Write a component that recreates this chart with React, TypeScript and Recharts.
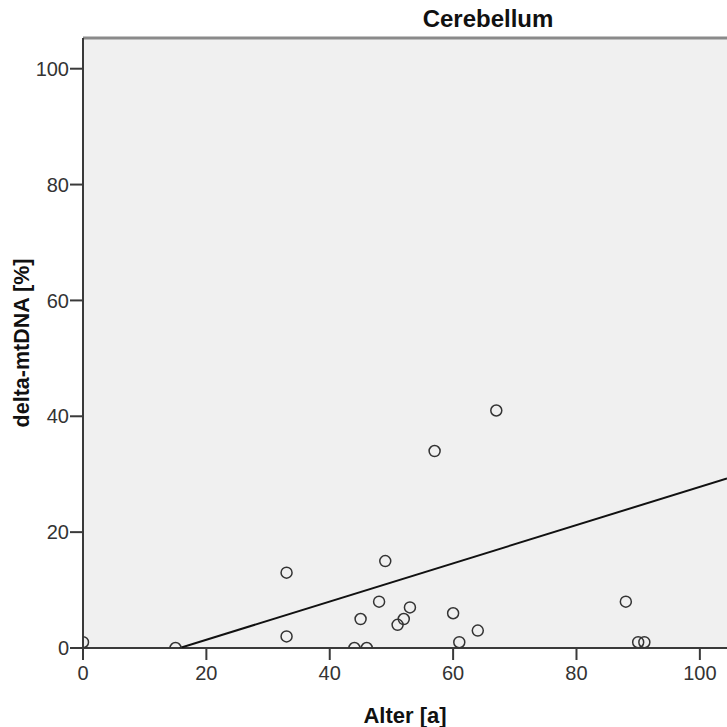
import {
  ScatterChart,
  Scatter,
  XAxis,
  YAxis,
  CartesianGrid,
  ReferenceLine,
} from "recharts";

// Alter [a] and delta-mtDNA [%] per sample
const ages = [0, 15, 33, 33, 44, 46, 45, 48, 49, 51, 52, 53, 57, 60, 61, 64, 67, 88, 90, 91];
const deltas = [1, 0, 13, 2, 0, 0, 5, 8, 15, 4, 5, 7, 34, 6, 1, 3, 41, 8, 1, 1];

const xTicks = [0, 20, 40, 60, 80, 100];
const yTicks = [0, 20, 40, 60, 80, 100];
const xMax = 104.4;
const yMax = 105.3;

// linear fit: delta = intercept + slope * age
const fitIntercept = -5.18;
const fitSlope = 0.33;

const points = ages.map((a, i) => ({ x: a, y: deltas[i] }));
const fitStart = Math.max(0, -fitIntercept / fitSlope);
const fitLine = [fitStart, xMax].map((x) => ({ x, y: fitIntercept + fitSlope * x }));

const FONT = '"Liberation Sans", Arial, sans-serif';
const AXIS = "#3a3a3a";

const tickStyle = { fill: "#333", fontSize: 20, fontFamily: FONT };

function YTitle(props: any) {
  const vb = props.viewBox;
  const cx = 22;
  const cy = vb.y + vb.height / 2;
  return (
    <text
      x={cx}
      y={cy}
      transform={`rotate(-90 ${cx} ${cy})`}
      textAnchor="middle"
      dominantBaseline="central"
      fontFamily={FONT}
      fontWeight="bold"
      fontSize={21.5}
      fill="#111"
    >
      delta-mtDNA [%]
    </text>
  );
}

function XTitle(props: any) {
  const vb = props.viewBox;
  return (
    <text
      x={vb.x + vb.width / 2}
      y={715}
      textAnchor="middle"
      dominantBaseline="central"
      fontFamily={FONT}
      fontWeight="bold"
      fontSize={22}
      fill="#111"
    >
      Alter [a]
    </text>
  );
}

const ring = (p: any) => (
  <circle cx={p.cx} cy={p.cy} r={5.5} fill="none" stroke="#333" strokeWidth={1.5} />
);

export default function App() {
  return (
    <div style={{ position: "absolute", left: 0, top: 0, width: 727, height: 727, background: "#fff" }}>
      <div
        style={{
          position: "absolute",
          left: 488,
          top: 19,
          transform: "translate(-50%, -50%)",
          fontFamily: FONT,
          fontWeight: "bold",
          fontSize: 24,
          color: "#111",
          whiteSpace: "nowrap",
        }}
      >
        Cerebellum
      </div>
      <ScatterChart
        width={727}
        height={727}
        margin={{ top: 38, right: 0, bottom: 0, left: 0 }}
      >
        <CartesianGrid fill="#f0f0f0" horizontal={false} vertical={false} />
        <XAxis
          type="number"
          dataKey="x"
          domain={[0, xMax]}
          ticks={xTicks}
          allowDataOverflow
          height={79}
          tickSize={12}
          tickMargin={6}
          tick={tickStyle}
          axisLine={{ stroke: AXIS, strokeWidth: 2 }}
          tickLine={{ stroke: AXIS, strokeWidth: 2 }}
          label={<XTitle />}
        />
        <YAxis
          type="number"
          dataKey="y"
          domain={[0, yMax]}
          ticks={yTicks}
          allowDataOverflow
          width={83}
          tickSize={13}
          tickMargin={1}
          tick={tickStyle}
          axisLine={{ stroke: AXIS, strokeWidth: 2 }}
          tickLine={{ stroke: AXIS, strokeWidth: 2 }}
          label={<YTitle />}
        />
        <ReferenceLine y={yMax} stroke="#8a8a8a" strokeWidth={3} />
        <Scatter
          data={fitLine}
          line={{ stroke: "#111", strokeWidth: 2 }}
          shape={() => null}
          isAnimationActive={false}
        />
        <Scatter data={points} shape={ring} isAnimationActive={false} />
      </ScatterChart>
    </div>
  );
}
